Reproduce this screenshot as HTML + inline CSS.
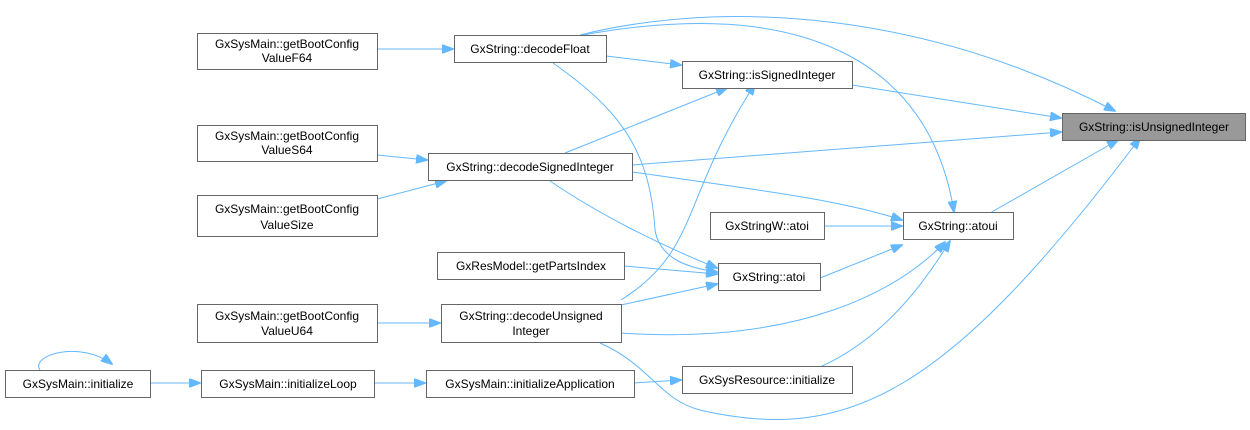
<!DOCTYPE html>
<html><head><meta charset="utf-8"><style>
html,body{margin:0;padding:0;background:#fff;}
svg{display:block;}
text{font-family:"Liberation Sans",sans-serif;font-size:12px;fill:#000;}
.b{fill:#fff;stroke:#666;stroke-width:1;}
.e{fill:none;stroke:#63b8ff;stroke-width:1;}
</style></head><body>
<svg width="1250" height="430" viewBox="0 0 1250 430" xmlns="http://www.w3.org/2000/svg">
<defs><marker id="a" markerWidth="12" markerHeight="9" refX="11" refY="4.5" orient="auto" markerUnits="userSpaceOnUse"><path d="M0,0 L12,4.5 L0,9 z" fill="#63b8ff" stroke="#63b8ff"/></marker></defs>
<g class="e" marker-end="url(#a)">
<path d="M377,49 L453,49"/>
<path d="M377,155 L427,160"/>
<path d="M377,199 L446,181"/>
<path d="M377,323 L440,323"/>
<path d="M40,370 C30,355 80,340 112,364"/>
<path d="M150,383 L200,383"/>
<path d="M374,383 L425,383"/>
<path d="M634,383 L681,380"/>
<path d="M580,35 C700,5 900,0 1115,111"/>
<path d="M606,56 L681,65"/>
<path d="M583,35 C800,-5 930,60 954,212"/>
<path d="M553,63 C620,110 650,150 655,230 C660,260 690,268 717,272"/>
<path d="M565,153 L727,88"/>
<path d="M632,165 L1061,132"/>
<path d="M550,181 C600,215 660,245 717,268"/>
<path d="M632,172 C760,190 840,200 902,220"/>
<path d="M852,85 L1061,118"/>
<path d="M990,213 L1118,140"/>
<path d="M824,226 L902,226"/>
<path d="M820,278 L902,245"/>
<path d="M624,266 L717,274"/>
<path d="M621,305 L717,284"/>
<path d="M621,300 C700,250 680,200 755,84"/>
<path d="M621,333 C800,345 900,290 945,242"/>
<path d="M600,343 C650,365 660,400 700,410 C850,445 950,390 1140,138"/>
<path d="M820,367 C880,340 920,290 950,241"/>
</g>
<rect class="b" x="197.5" y="33.5" width="180" height="36"/>
<text x="287" y="48" text-anchor="middle">GxSysMain::getBootConfig</text><text x="287" y="62" text-anchor="middle">ValueF64</text>
<rect class="b" x="454.5" y="35.5" width="152" height="27"/>
<text x="530" y="53" text-anchor="middle">GxString::decodeFloat</text>
<rect class="b" x="682.5" y="61.5" width="170" height="27"/>
<text x="767" y="79" text-anchor="middle">GxString::isSignedInteger</text>
<rect x="1062.5" y="113.5" width="183" height="27" fill="#999" stroke="#666"/>
<text x="1154" y="131" text-anchor="middle">GxString::isUnsignedInteger</text>
<rect class="b" x="197.5" y="125.5" width="180" height="36"/>
<text x="287" y="140" text-anchor="middle">GxSysMain::getBootConfig</text><text x="287" y="154" text-anchor="middle">ValueS64</text>
<rect class="b" x="428.5" y="153.5" width="204" height="27"/>
<text x="530" y="171" text-anchor="middle">GxString::decodeSignedInteger</text>
<rect class="b" x="197.5" y="195.5" width="180" height="41"/>
<text x="287" y="213" text-anchor="middle">GxSysMain::getBootConfig</text><text x="287" y="229" text-anchor="middle">ValueSize</text>
<rect class="b" x="710.5" y="212.5" width="114" height="27"/>
<text x="767" y="230" text-anchor="middle">GxStringW::atoi</text>
<rect class="b" x="903.5" y="212.5" width="110" height="27"/>
<text x="958" y="230" text-anchor="middle">GxString::atoui</text>
<rect class="b" x="437.5" y="252.5" width="187" height="27"/>
<text x="531" y="270" text-anchor="middle">GxResModel::getPartsIndex</text>
<rect class="b" x="718.5" y="263.5" width="102" height="27"/>
<text x="769" y="281" text-anchor="middle">GxString::atoi</text>
<rect class="b" x="197.5" y="304.5" width="180" height="38"/>
<text x="287" y="320" text-anchor="middle">GxSysMain::getBootConfig</text><text x="287" y="335" text-anchor="middle">ValueU64</text>
<rect class="b" x="441.5" y="304.5" width="180" height="38"/>
<text x="531" y="320" text-anchor="middle">GxString::decodeUnsigned</text><text x="531" y="335" text-anchor="middle">Integer</text>
<rect class="b" x="5.5" y="370.5" width="145" height="27"/>
<text x="78" y="388" text-anchor="middle">GxSysMain::initialize</text>
<rect class="b" x="201.5" y="370.5" width="173" height="27"/>
<text x="288" y="388" text-anchor="middle">GxSysMain::initializeLoop</text>
<rect class="b" x="426.5" y="370.5" width="208" height="27"/>
<text x="530" y="388" text-anchor="middle">GxSysMain::initializeApplication</text>
<rect class="b" x="682.5" y="366.5" width="170" height="27"/>
<text x="767" y="384" text-anchor="middle">GxSysResource::initialize</text>
</svg>
</body></html>
